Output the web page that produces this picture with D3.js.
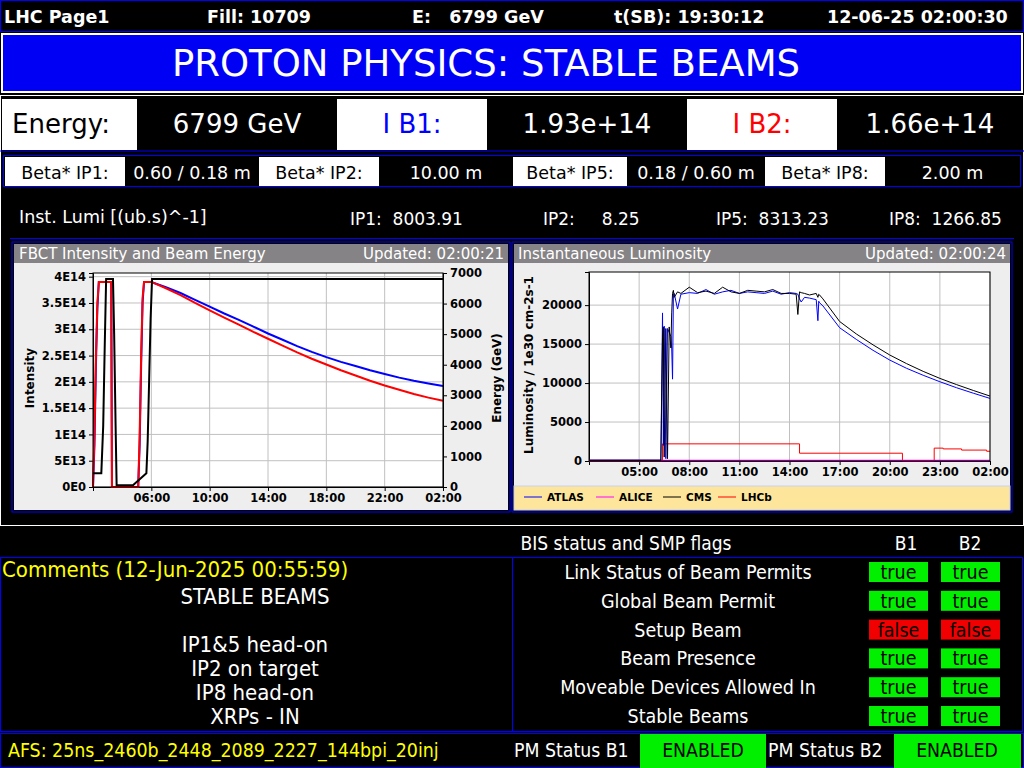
<!DOCTYPE html>
<html><head><meta charset="utf-8">
<script src="https://cdn.jsdelivr.net/npm/d3@7"></script>
<style>body{margin:0;background:#000}svg{display:block;font-family:"DejaVu Sans",sans-serif}</style>
</head><body><svg id="c" width="1024" height="768"></svg>
<script>
// ---- data ----
const fbctTime=[0,0.1,0.2,0.3,0.4,1.25,1.3,3.1,3.2,3.3,3.4,3.5,4.0,5,6,7,8,9,10,11,12,13,14,15,16,17,18,19,20,21,22,23,24];
const fbctB1=[0,0.8,2.3,3.4,3.9,3.9,0,0,0.8,2.3,3.5,3.9,3.9,3.8,3.69,3.56,3.43,3.3,3.18,3.05,2.92,2.8,2.68,2.57,2.47,2.38,2.3,2.22,2.15,2.08,2.02,1.97,1.92];
const fbctB2=[0,1.0,2.5,3.5,3.9,3.9,0,0,1.0,2.5,3.6,3.9,3.9,3.78,3.65,3.5,3.36,3.22,3.09,2.95,2.82,2.69,2.56,2.44,2.33,2.22,2.12,2.02,1.93,1.85,1.77,1.70,1.64];
const energyTime=[0,0.57,0.7,0.8,0.9,1.37,1.45,1.55,1.62,2.74,3.66,3.75,3.85,3.95,4.05,24];
const energyVal=[450,450,2000,4500,6800,6800,5000,2000,60,60,450,1500,3500,5500,6800,6800];
const intTicks=[0,0.5,1,1.5,2,2.5,3,3.5,4];
const intTickLabels=["0E0","5E13","1E14","1.5E14","2E14","2.5E14","3E14","3.5E14","4E14"];
const energyTicks=[0,1000,2000,3000,4000,5000,6000,7000];
const fbctXTicks=[4,8,12,16,20,24];
const fbctXLabels=["06:00","10:00","14:00","18:00","22:00","02:00"];
const lumiTime=[0,4.3,4.4,4.45,4.5,4.6,4.7,4.8,4.9,4.95,5.0,5.05,5.1,5.3,5.5,6,6.5,7,7.5,8,8.5,9,9.5,10,10.5,11,11.5,12,12.4,12.5,12.6,12.7,12.9,13.2,13.6,13.7,13.75,13.8,14,15,16,17,18,19,20,21,22,23,24];
const atlas=[100,100,19000,2000,17300,300,17000,16500,16000,14500,10500,21200,21500,19500,21400,21600,21500,22000,21400,21700,21900,21500,21700,21600,21500,21800,21400,21600,21500,21400,20800,20400,21000,20900,20700,18000,20500,20300,19900,17100,15600,14200,12950,11900,11000,10170,9400,8700,8030];
const cms=[100,100,15800,17200,500,17000,300,17200,14500,19000,21500,21900,21000,21700,21500,22300,21600,21800,21500,22300,21700,21500,21900,21800,21700,22000,21500,21500,21400,18800,21700,21600,21500,21300,21500,21000,21400,21300,20800,17900,16300,14900,13600,12500,11500,10600,9800,9050,8330];
const lhcbTime=[0,4.4,12.6,18.76,20.66,21.2,22.3,23.8,24];
const lhcb=[0,2200,1000,0,1650,1550,1400,1250,1250];
const aliceTime=[0,24];
const alice=[70,70];
const lumiXTicks=[3,6,9,12,15,18,21,24];
const lumiXLabels=["05:00","08:00","11:00","14:00","17:00","20:00","23:00","02:00"];
const lumiYTicks=[0,5000,10000,15000,20000];
const flagLabels=["Link Status of Beam Permits","Global Beam Permit","Setup Beam","Beam Presence","Moveable Devices Allowed In","Stable Beams"];
const flagB1=[true,true,false,true,true,true];
const flagB2=[true,true,false,true,true,true];

const svg=d3.select("#c");
function rect(x,y,w,h,fill,stroke,sw){return svg.append("rect").attr("x",x).attr("y",y).attr("width",w).attr("height",h).attr("fill",fill||"none").attr("stroke",stroke||"none").attr("stroke-width",sw||1);}
function text(g,x,y,s,o){const t=g.append("text").attr("x",x).attr("y",y).text(s);o=o||{};t.attr("fill",o.fill||"#fff").attr("font-size",o.size||16).attr("text-anchor",o.anchor||"start");if(o.weight)t.attr("font-weight",o.weight);if(o.family)t.attr("font-family",o.family);return t;}

rect(0,0,1024,768,"#000");
// header
rect(0.5,0.5,1023,31,"none","#00f");
[["LHC Page1",4],["Fill: 10709",207],["E:   6799 GeV",412],["t(SB): 19:30:12",614],["12-06-25 02:00:30",827]].forEach(d=>text(svg,d[1],23,d[0],{weight:"bold",size:17.5}).attr("xml:space","preserve"));
rect(2,34,1020,58,"#0000f5","#fff",2);
text(svg,486,76,"PROTON PHYSICS: STABLE BEAMS",{size:37,anchor:"middle"});
rect(0.5,95.5,1023,430,"none","#fff",1);
// energy row
const row1=[[2,135,"#fff","Energy:","#000","start"],[137,200,"#000","6799 GeV","#fff"],[337,150,"#fff","I B1:","#00f"],[487,200,"#000","1.93e+14","#fff"],[687,150,"#fff","I B2:","#f00"],[837,186,"#000","1.66e+14","#fff"]];
row1.forEach(d=>{rect(d[0],99,d[1],51,d[2]);text(svg,d[5]?d[0]+10:d[0]+d[1]/2,133,d[3],{size:26,fill:d[4],anchor:d[5]||"middle"});});
svg.append("line").attr("x1",0).attr("x2",1024).attr("y1",151).attr("y2",151).attr("stroke","#00f");
rect(3.5,155.5,1017,31,"none","#00f");
const row2=[[5,120,"#fff","Beta* IP1:","#000"],[125,134,"#000","0.60 / 0.18 m","#fff"],[259,120,"#fff","Beta* IP2:","#000"],[379,134,"#000","10.00 m","#fff"],[513,114,"#fff","Beta* IP5:","#000"],[627,138,"#000","0.18 / 0.60 m","#fff"],[765,120,"#fff","Beta* IP8:","#000"],[885,135,"#000","2.00 m","#fff"]];
row2.forEach(d=>{rect(d[0],157,d[1],29,d[2]);text(svg,d[0]+d[1]/2,179,d[3],{size:17.5,fill:d[4],anchor:"middle"});});
text(svg,19,223,"Inst. Lumi [(ub.s)^-1]",{size:17.5});
[["IP1:  8003.91",350],["IP2:     8.25",543],["IP5:  8313.23",716],["IP8:  1266.85",889]].forEach(d=>text(svg,d[1],225,d[0],{size:17}).attr("xml:space","preserve"));
svg.append("line").attr("x1",10).attr("x2",1014).attr("y1",238.5).attr("y2",238.5).attr("stroke","#00f");

// ---- FBCT chart ----
rect(12,242,498,270,"none","#00f");
rect(14,244,494,266,"#eeeeee");
rect(14,244,494,19,"#858385");
text(svg,19,259,"FBCT Intensity and Beam Energy",{size:15});
text(svg,504,259,"Updated: 02:00:21",{size:15,anchor:"end"});
const fx=d3.scaleLinear().domain([0,24]).range([93,443]);
const fyL=d3.scaleLinear().domain([0,4.07]).range([487,273]);
const fyR=d3.scaleLinear().domain([0,7000]).range([487,273]);
rect(93,273,350,214,"#fff");
const g1=svg.append("g");
g1.selectAll("line.gx").data(fbctXTicks).join("line").attr("x1",d=>fx(d)).attr("x2",d=>fx(d)).attr("y1",273).attr("y2",487).attr("stroke","#c0c0c0");
g1.selectAll("line.gy").data(intTicks).join("line").attr("x1",93).attr("x2",443).attr("y1",d=>fyL(d)).attr("y2",d=>fyL(d)).attr("stroke","#c0c0c0");
const axL=d3.axisLeft(fyL).tickValues(intTicks).tickFormat((d,i)=>intTickLabels[i]).tickSize(4);
const axR=d3.axisRight(fyR).tickValues(energyTicks).tickFormat(d3.format("d")).tickSize(4);
const axB=d3.axisBottom(fx).tickValues(fbctXTicks).tickFormat((d,i)=>fbctXLabels[i]).tickSize(4);
[[axL,"translate(93,0)"],[axR,"translate(443,0)"],[axB,"translate(0,487)"]].forEach(a=>{const g=svg.append("g").attr("transform",a[1]).call(a[0]);g.selectAll("text").attr("font-size",11.5).attr("font-weight","bold").attr("fill","#000").attr("font-family","DejaVu Sans");g.select(".domain").attr("stroke","#000");});
const ln1=d3.line().x(d=>fx(d[0])).y(d=>fyL(d[1]));
svg.append("path").attr("d",ln1(d3.zip(fbctTime,fbctB1))).attr("fill","none").attr("stroke","#00f").attr("stroke-width",2);
svg.append("path").attr("d",ln1(d3.zip(fbctTime,fbctB2))).attr("fill","none").attr("stroke","#f00").attr("stroke-width",2);
svg.append("path").attr("d",d3.line().x(d=>fx(d[0])).y(d=>fyR(d[1]))(d3.zip(energyTime,energyVal))).attr("fill","none").attr("stroke","#000").attr("stroke-width",2);
rect(93,273,350,214,"none","#000");
text(svg,0,0,"Intensity",{size:12,weight:"bold",fill:"#000",anchor:"middle"}).attr("transform","translate(34,378) rotate(-90)");
text(svg,0,0,"Energy (GeV)",{size:12,weight:"bold",fill:"#000",anchor:"middle"}).attr("transform","translate(501,378) rotate(-90)");

// ---- Lumi chart ----
rect(512,242,500,270,"none","#00f");
rect(514,244,496,266,"#eeeeee");
rect(514,244,496,19,"#858385");
text(svg,518,259,"Instantaneous Luminosity",{size:15});
text(svg,1006,259,"Updated: 02:00:24",{size:15,anchor:"end"});
const lx=d3.scaleLinear().domain([0,24]).range([589,990]);
const ly=d3.scaleLinear().domain([0,24250]).range([461,272]);
rect(589,272,401,189,"#fff");
svg.append("g").selectAll("line").data(lumiXTicks).join("line").attr("x1",d=>lx(d)).attr("x2",d=>lx(d)).attr("y1",272).attr("y2",461).attr("stroke","#c0c0c0");
svg.append("g").selectAll("line").data(lumiYTicks).join("line").attr("x1",589).attr("x2",990).attr("y1",d=>ly(d)).attr("y2",d=>ly(d)).attr("stroke","#c0c0c0");
[[d3.axisLeft(ly).tickValues(lumiYTicks).tickFormat(d3.format("d")).tickSize(4),"translate(589,0)"],[d3.axisBottom(lx).tickValues(lumiXTicks).tickFormat((d,i)=>lumiXLabels[i]).tickSize(4),"translate(0,461)"]].forEach(a=>{const g=svg.append("g").attr("transform",a[1]).call(a[0]);g.selectAll("text").attr("font-size",11.5).attr("font-weight","bold").attr("fill","#000").attr("font-family","DejaVu Sans");g.select(".domain").attr("stroke","#000");});
const lnL=d3.line().x(d=>lx(d[0])).y(d=>ly(d[1]));
const lnS=d3.line().curve(d3.curveStepAfter).x(d=>lx(d[0])).y(d=>ly(d[1]));
svg.append("path").attr("d",lnS(d3.zip(lhcbTime,lhcb))).attr("fill","none").attr("stroke","#f00").attr("stroke-width",1);
svg.append("path").attr("d",lnL(d3.zip(aliceTime,alice))).attr("fill","none").attr("stroke","#f0f").attr("stroke-width",1.5);
svg.append("path").attr("d",lnL(d3.zip(lumiTime,atlas))).attr("fill","none").attr("stroke","#00f").attr("stroke-width",1);
svg.append("path").attr("d",lnL(d3.zip(lumiTime,cms))).attr("fill","none").attr("stroke","#000").attr("stroke-width",1);
rect(589,272,401,189,"none","#000");
text(svg,0,0,"Luminosity / 1e30 cm-2s-1",{size:12,weight:"bold",fill:"#000",anchor:"middle"}).attr("transform","translate(533,365) rotate(-90)");
rect(514,486,496,24,"#fde69b","#c8d0f0");
[["ATLAS","#00f",524],["ALICE","#f0f",596],["CMS","#000",663],["LHCb","#f00",718]].forEach(d=>{svg.append("line").attr("x1",d[2]).attr("x2",d[2]+18).attr("y1",497).attr("y2",497).attr("stroke",d[1]);text(svg,d[2]+23,501,d[0],{size:10.5,weight:"bold",fill:"#000"});});

// ---- bottom ----
const cf="DejaVu Sans Condensed";
text(svg,626,550,"BIS status and SMP flags",{family:cf,size:19,anchor:"middle"});
text(svg,906,550,"B1",{family:cf,size:19,anchor:"middle"});
text(svg,970,550,"B2",{family:cf,size:19,anchor:"middle"});
rect(0.5,557.5,512,174,"none","#00f");
rect(512.5,557.5,510,174,"none","#00f");
text(svg,2,577,"Comments (12-Jun-2025 00:55:59)",{family:cf,size:22,fill:"#ff0"});
[["STABLE BEAMS",604],["IP1&5 head-on",652],["IP2 on target",676],["IP8 head-on",700],["XRPs - IN",724]].forEach(d=>text(svg,255,d[1],d[0],{family:cf,size:22,anchor:"middle"}));
flagLabels.forEach((l,i)=>{const y=562+i*28.8;text(svg,688,y+17,l,{family:cf,size:19.5,anchor:"middle"});
 [[flagB1[i],869],[flagB2[i],941]].forEach(b=>{rect(b[1],y,59,20,b[0]?"#00f000":"#f00000");text(svg,b[1]+29.5,y+17,b[0]?"true":"false",{family:cf,size:19.5,fill:"#000",anchor:"middle"});});});
rect(0.5,733.5,1023,34,"none","#00f");
text(svg,8,757,"AFS: 25ns_2460b_2448_2089_2227_144bpi_20inj",{family:cf,size:19.4,fill:"#ff0"});
text(svg,514,757,"PM Status B1",{family:cf,size:19.3});
rect(640,734,126,34,"#00f000");
text(svg,703,757,"ENABLED",{family:cf,size:19.3,fill:"#000",anchor:"middle"});
text(svg,768,757,"PM Status B2",{family:cf,size:19.3});
rect(894,734,127,34,"#00f000");
text(svg,957,757,"ENABLED",{family:cf,size:19.3,fill:"#000",anchor:"middle"});
</script></body></html>
